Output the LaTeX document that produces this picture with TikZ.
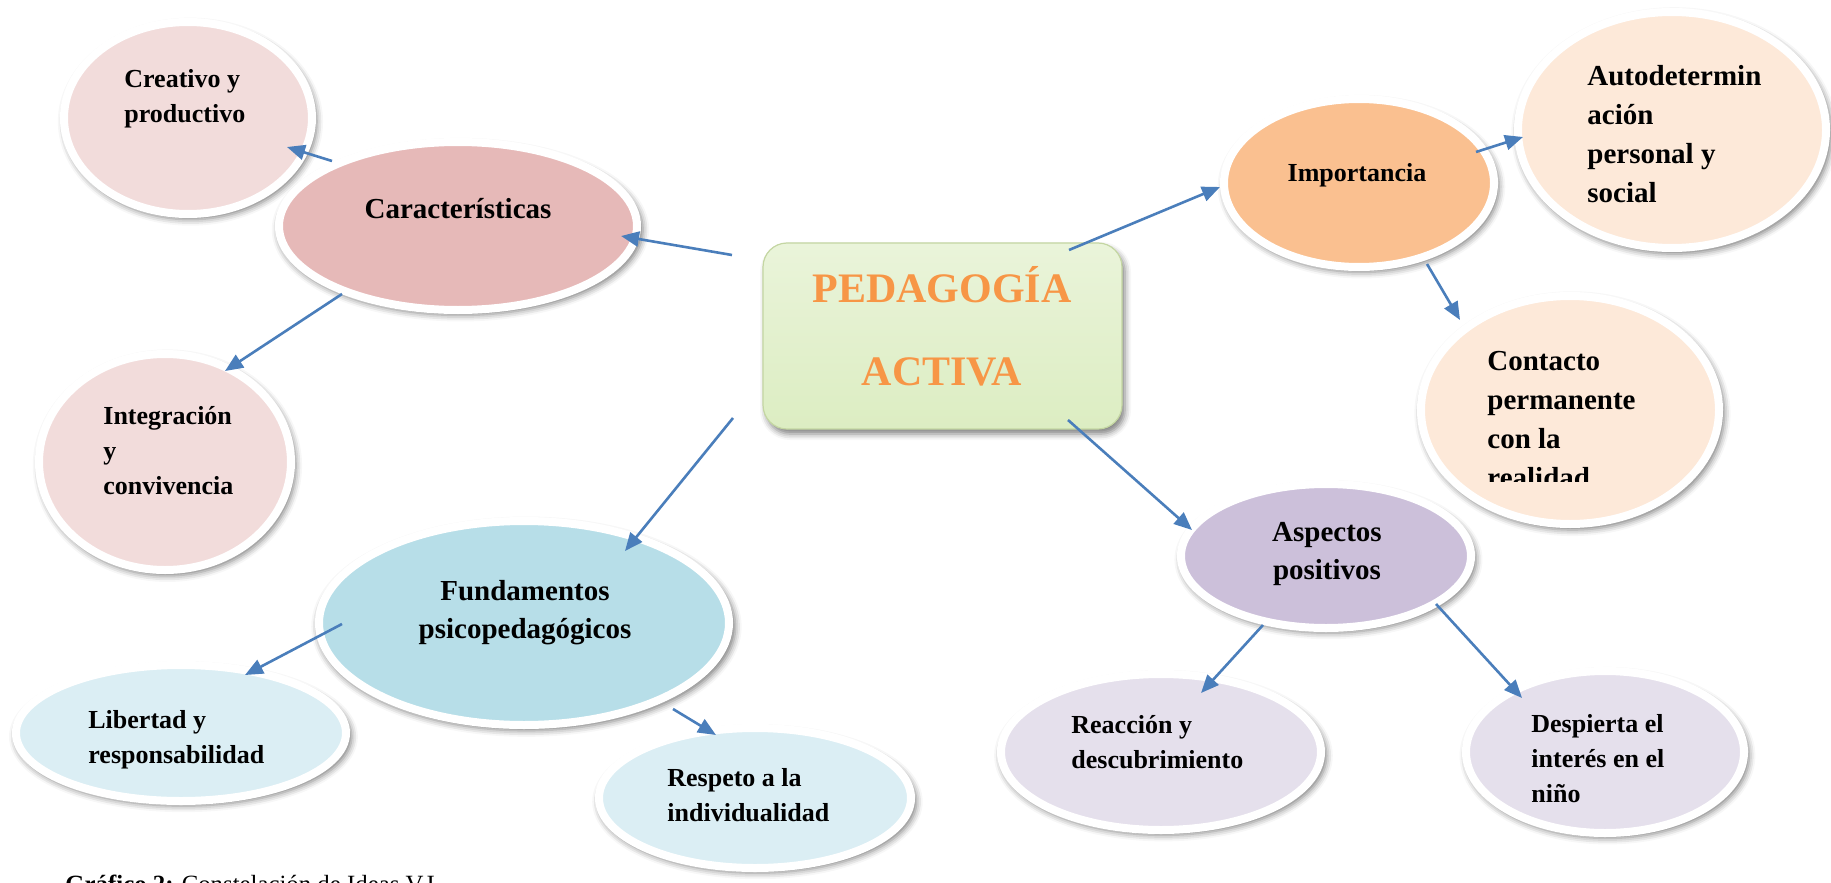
\documentclass[tikz,border=0pt]{standalone}
\usepackage{fontspec}
\setmainfont{Liberation Serif}
\usetikzlibrary{shapes.geometric,arrows.meta,shadows.blur}
\definecolor{arrblue}{HTML}{4A7EBB}
\definecolor{pinkL}{HTML}{F2DCDB}
\definecolor{pinkM}{HTML}{E6B9B8}
\definecolor{blueM}{HTML}{B7DEE8}
\definecolor{blueL}{HTML}{DBEEF4}
\definecolor{lilaM}{HTML}{CCC0DA}
\definecolor{lilaL}{HTML}{E5E0EC}
\definecolor{orangeM}{HTML}{FAC090}
\definecolor{peachL}{HTML}{FDE9D9}
\definecolor{pedorange}{HTML}{F79646}
\definecolor{boxtop}{HTML}{EAF4DA}
\definecolor{boxbot}{HTML}{DCEDC2}
\definecolor{boxedge}{HTML}{C4D6A2}
\newcommand\txtL[1]{\vtop{\halign{##\hfil\cr#1\crcr}}}
\newcommand\txtC[1]{\vtop{\halign{\hfil##\hfil\cr#1\crcr}}}
\newcommand\myfs{\fontsize{13pt}{17.5pt}\selectfont\bfseries}
\newcommand\myfb{\fontsize{14.5pt}{19pt}\selectfont\bfseries}
\newcommand\myfbl{\fontsize{14.5pt}{19.5pt}\selectfont\bfseries}
\newcommand\myfped{\fontsize{21pt}{41.5pt}\selectfont\bfseries}
\begin{document}
\begin{tikzpicture}[x=0.5pt,y=-0.5pt,
  bub/.style={ellipse, draw=white, line width=4pt, inner sep=0pt,
    blur shadow={shadow xshift=1.2pt,shadow yshift=-1.8pt,shadow scale=1.02,shadow blur radius=3pt,shadow opacity=50}},
  lbl/.style={inner sep=0pt, text=black},
  arr/.style={draw=arrblue, line width=1.3pt, -{Triangle[length=9pt,width=7.5pt]}}]
\useasboundingbox (0,0) rectangle (1831,883);

% ellipses
\node[bub, fill=pinkL, minimum width=124pt, minimum height=96pt] (creat) at (188,118) {};
\node[bub, fill=pinkM, minimum width=179pt, minimum height=84pt] (car) at (458,226) {};
\node[bub, fill=pinkL, minimum width=126pt, minimum height=108pt] (integ) at (165,462) {};
\node[bub, fill=blueL, minimum width=165pt, minimum height=68pt] (lib) at (181,733) {};
\node[bub, fill=blueM, minimum width=205pt, minimum height=102pt] (fund) at (524,623) {};
\node[bub, fill=blueL, minimum width=156pt, minimum height=70pt] (resp) at (755,798) {};
\node[bub, fill=orangeM, minimum width=135pt, minimum height=84pt] (imp) at (1359,183) {};
\node[bub, fill=peachL, minimum width=154pt, minimum height=118pt] (auto) at (1672,130) {};
\node[bub, fill=peachL, minimum width=149pt, minimum height=114pt] (cont) at (1570,410) {};
\node[bub, fill=lilaM, minimum width=145pt, minimum height=72pt] (asp) at (1326,556) {};
\node[bub, fill=lilaL, minimum width=160pt, minimum height=78pt] (reac) at (1161,752) {};
\node[bub, fill=lilaL, minimum width=139pt, minimum height=81pt] (desp) at (1605,752) {};

% central box
\node[draw=boxedge, line width=0.6pt, rounded corners=12pt, minimum width=179.5pt, minimum height=93pt,
  top color=boxtop, bottom color=boxbot,
  blur shadow={shadow xshift=1.5pt,shadow yshift=-2.5pt,shadow blur radius=3pt,shadow opacity=50}] (ped) at (942.5,336) {};
\node[lbl, anchor=base, font=\myfped, text=pedorange] (ped-t) at (942,302) {\txtC{PEDAGOGÍA\cr ACTIVA}};

% labels
\node[lbl, anchor=base west, font=\myfs] (creat-t) at (124,88) {\txtL{Creativo y\cr productivo}};
\node[lbl, anchor=base, font=\myfb] (car-t) at (458,218) {Características};
\node[lbl, anchor=base west, font=\myfs] (integ-t) at (103,424) {\txtL{Integración\cr y\cr convivencia}};
\node[lbl, anchor=base, font=\myfb] (fund-t) at (525,600) {\txtC{Fundamentos\cr psicopedagógicos}};
\node[lbl, anchor=base west, font=\myfs] (lib-t) at (88,728) {\txtL{Libertad y\cr responsabilidad}};
\node[lbl, anchor=base west, font=\myfs] (resp-t) at (667,786) {\txtL{Respeto a la\cr individualidad}};
\node[lbl, anchor=base, font=\myfs] (imp-t) at (1357,182) {Importancia};
\node[lbl, anchor=base west, font=\myfbl] (auto-t) at (1587,86) {\txtL{Autodetermin\cr ación\cr personal y\cr social}};
\begin{scope}
\clip (1400,300) rectangle (1750,481);
\node[lbl, anchor=base west, font=\myfbl] (cont-t) at (1487,370) {\txtL{Contacto\cr permanente\cr con la\cr realidad}};
\end{scope}
\node[lbl, anchor=base, font=\myfb] (asp-t) at (1327,541) {\txtC{Aspectos\cr positivos}};
\node[lbl, anchor=base west, font=\myfs] (reac-t) at (1071,733) {\txtL{Reacción y\cr descubrimiento}};
\node[lbl, anchor=base west, font=\myfs] (desp-t) at (1531,732) {\txtL{Despierta el\cr interés en el\cr niño}};

% connector end points
\coordinate (pedA) at (732,255);   \coordinate (carIn) at (621,236);
\coordinate (carA) at (332,161);   \coordinate (creatIn) at (287,147);
\coordinate (carB) at (342,294);   \coordinate (integIn) at (225,371);
\coordinate (pedB) at (733,418);   \coordinate (fundIn) at (625,551);
\coordinate (fundA) at (342,624);  \coordinate (libIn) at (245,675);
\coordinate (fundB) at (673,709);  \coordinate (respIn) at (716,735);
\coordinate (pedC) at (1069,250);  \coordinate (impIn) at (1220,187);
\coordinate (impA) at (1476,152);  \coordinate (autoIn) at (1523,137);
\coordinate (impB) at (1427,264);  \coordinate (contIn) at (1460,320);
\coordinate (pedD) at (1068,420);  \coordinate (aspIn) at (1192,530);
\coordinate (aspA) at (1263,625);  \coordinate (reacIn) at (1201,693);
\coordinate (aspB) at (1436,604);  \coordinate (despIn) at (1522,698);

\draw[arr] (pedA) -- (carIn);
\draw[arr] (carA) -- (creatIn);
\draw[arr] (carB) -- (integIn);
\draw[arr] (pedB) -- (fundIn);
\draw[arr] (fundA) -- (libIn);
\draw[arr] (fundB) -- (respIn);
\draw[arr] (pedC) -- (impIn);
\draw[arr] (impA) -- (autoIn);
\draw[arr] (impB) -- (contIn);
\draw[arr] (pedD) -- (aspIn);
\draw[arr] (aspA) -- (reacIn);
\draw[arr] (aspB) -- (despIn);

% caption (cut by the page edge, as in the reference)
\node[lbl, anchor=base west, font=\fontsize{12.4pt}{14pt}\selectfont] (cap) at (65,892) {\textbf{Gráfico 2:} Constelación de Ideas V.I.};
\end{tikzpicture}
\end{document}
